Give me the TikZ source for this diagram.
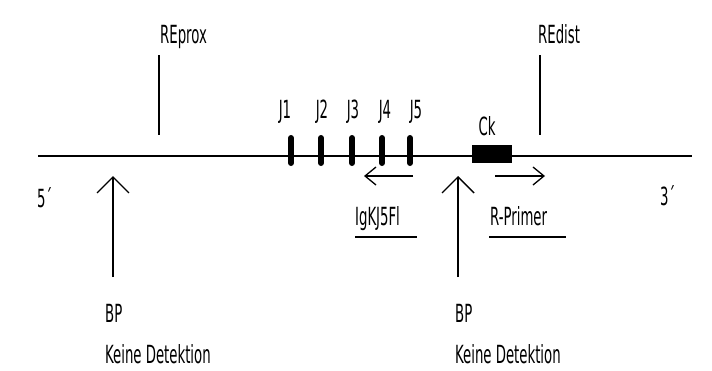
\documentclass[tikz,border=0pt]{standalone}
\usepackage{fontspec}
\usetikzlibrary{arrows.meta}
\newfontfamily\dfont[FakeStretch=0.59]{DejaVu Sans Condensed}
\begin{document}
\begin{tikzpicture}[x=1pt,y=-1pt,
  lbl/.style={font=\dfont\fontsize{25}{25}\selectfont, inner sep=0pt, anchor=base west},
  clbl/.style={font=\dfont\fontsize{25}{25}\selectfont, inner sep=0pt, anchor=base},
  mainline/.style={line width=2pt},
  site/.style={line width=2pt},
  jbar/.style={line width=6pt, line cap=round},
  bparrow/.style={line width=1.6pt, -{Straight Barb[length=16pt,width=32pt,line width=1.4pt]}},
  primer/.style={line width=1.5pt, -{Straight Barb[length=11pt,width=18pt,line width=1.3pt]}},
  uline/.style={line width=1.5pt}]
\useasboundingbox (0,0) rectangle (712,370);
\fill[white] (0,0) rectangle (712,370);
% main DNA line
\coordinate (L) at (38,156);
\coordinate (R) at (692,156);
\draw[mainline] (L) -- (R);
% restriction sites
\node[lbl] (reprox) at (160,43) {REprox};
\coordinate (rp1) at (159,55); \coordinate (rp2) at (159,135);
\draw[site] (rp1) -- (rp2);
\node[lbl] (redist) at (538,43) {REdist};
\coordinate (rd1) at (540,55); \coordinate (rd2) at (540,135);
\draw[site] (rd1) -- (rd2);
% J segments
\foreach \n/\x/\lx in {1/291/285,2/321/322,3/352/353,4/382/385,5/410/416}{
  \coordinate (j\n a) at (\x,138); \coordinate (j\n b) at (\x,163);
  \draw[jbar] (j\n a) -- (j\n b);
  \node[clbl] (jl\n) at (\lx,118) {J\n};
}
% Ck
\node[fill=black, minimum width=40pt, minimum height=18pt, inner sep=0pt] (ck) at (492,154) {};
\node[clbl] (ckl) at (487,135) {Ck};
% ends
\node[lbl] (five) at (37,207) {5´};
\node[lbl] (three) at (660,205) {3´};
% primers
\coordinate (p1s) at (413,176); \coordinate (p1e) at (364,176);
\draw[primer] (p1s) -- (p1e);
\coordinate (p2s) at (495,176); \coordinate (p2e) at (545,176);
\draw[primer] (p2s) -- (p2e);
\node[lbl] (igk) at (355,225) {IgKJ5Fl};
\coordinate (u1a) at (355,237); \coordinate (u1b) at (417,237);
\draw[uline] (u1a) -- (u1b);
\node[lbl] (rpr) at (490,225) {R-Primer};
\coordinate (u2a) at (489,237); \coordinate (u2b) at (566,237);
\draw[uline] (u2a) -- (u2b);
% breakpoints
\coordinate (b1s) at (113,277); \coordinate (b1e) at (113,176);
\draw[bparrow] (b1s) -- (b1e);
\coordinate (b2s) at (458,277); \coordinate (b2e) at (458,176);
\draw[bparrow] (b2s) -- (b2e);
\node[lbl] (bp1) at (105,322) {BP};
\node[lbl] (kd1) at (105,363) {Keine Detektion};
\node[lbl] (bp2) at (455,322) {BP};
\node[lbl] (kd2) at (455,363) {Keine Detektion};
\end{tikzpicture}
\end{document}
